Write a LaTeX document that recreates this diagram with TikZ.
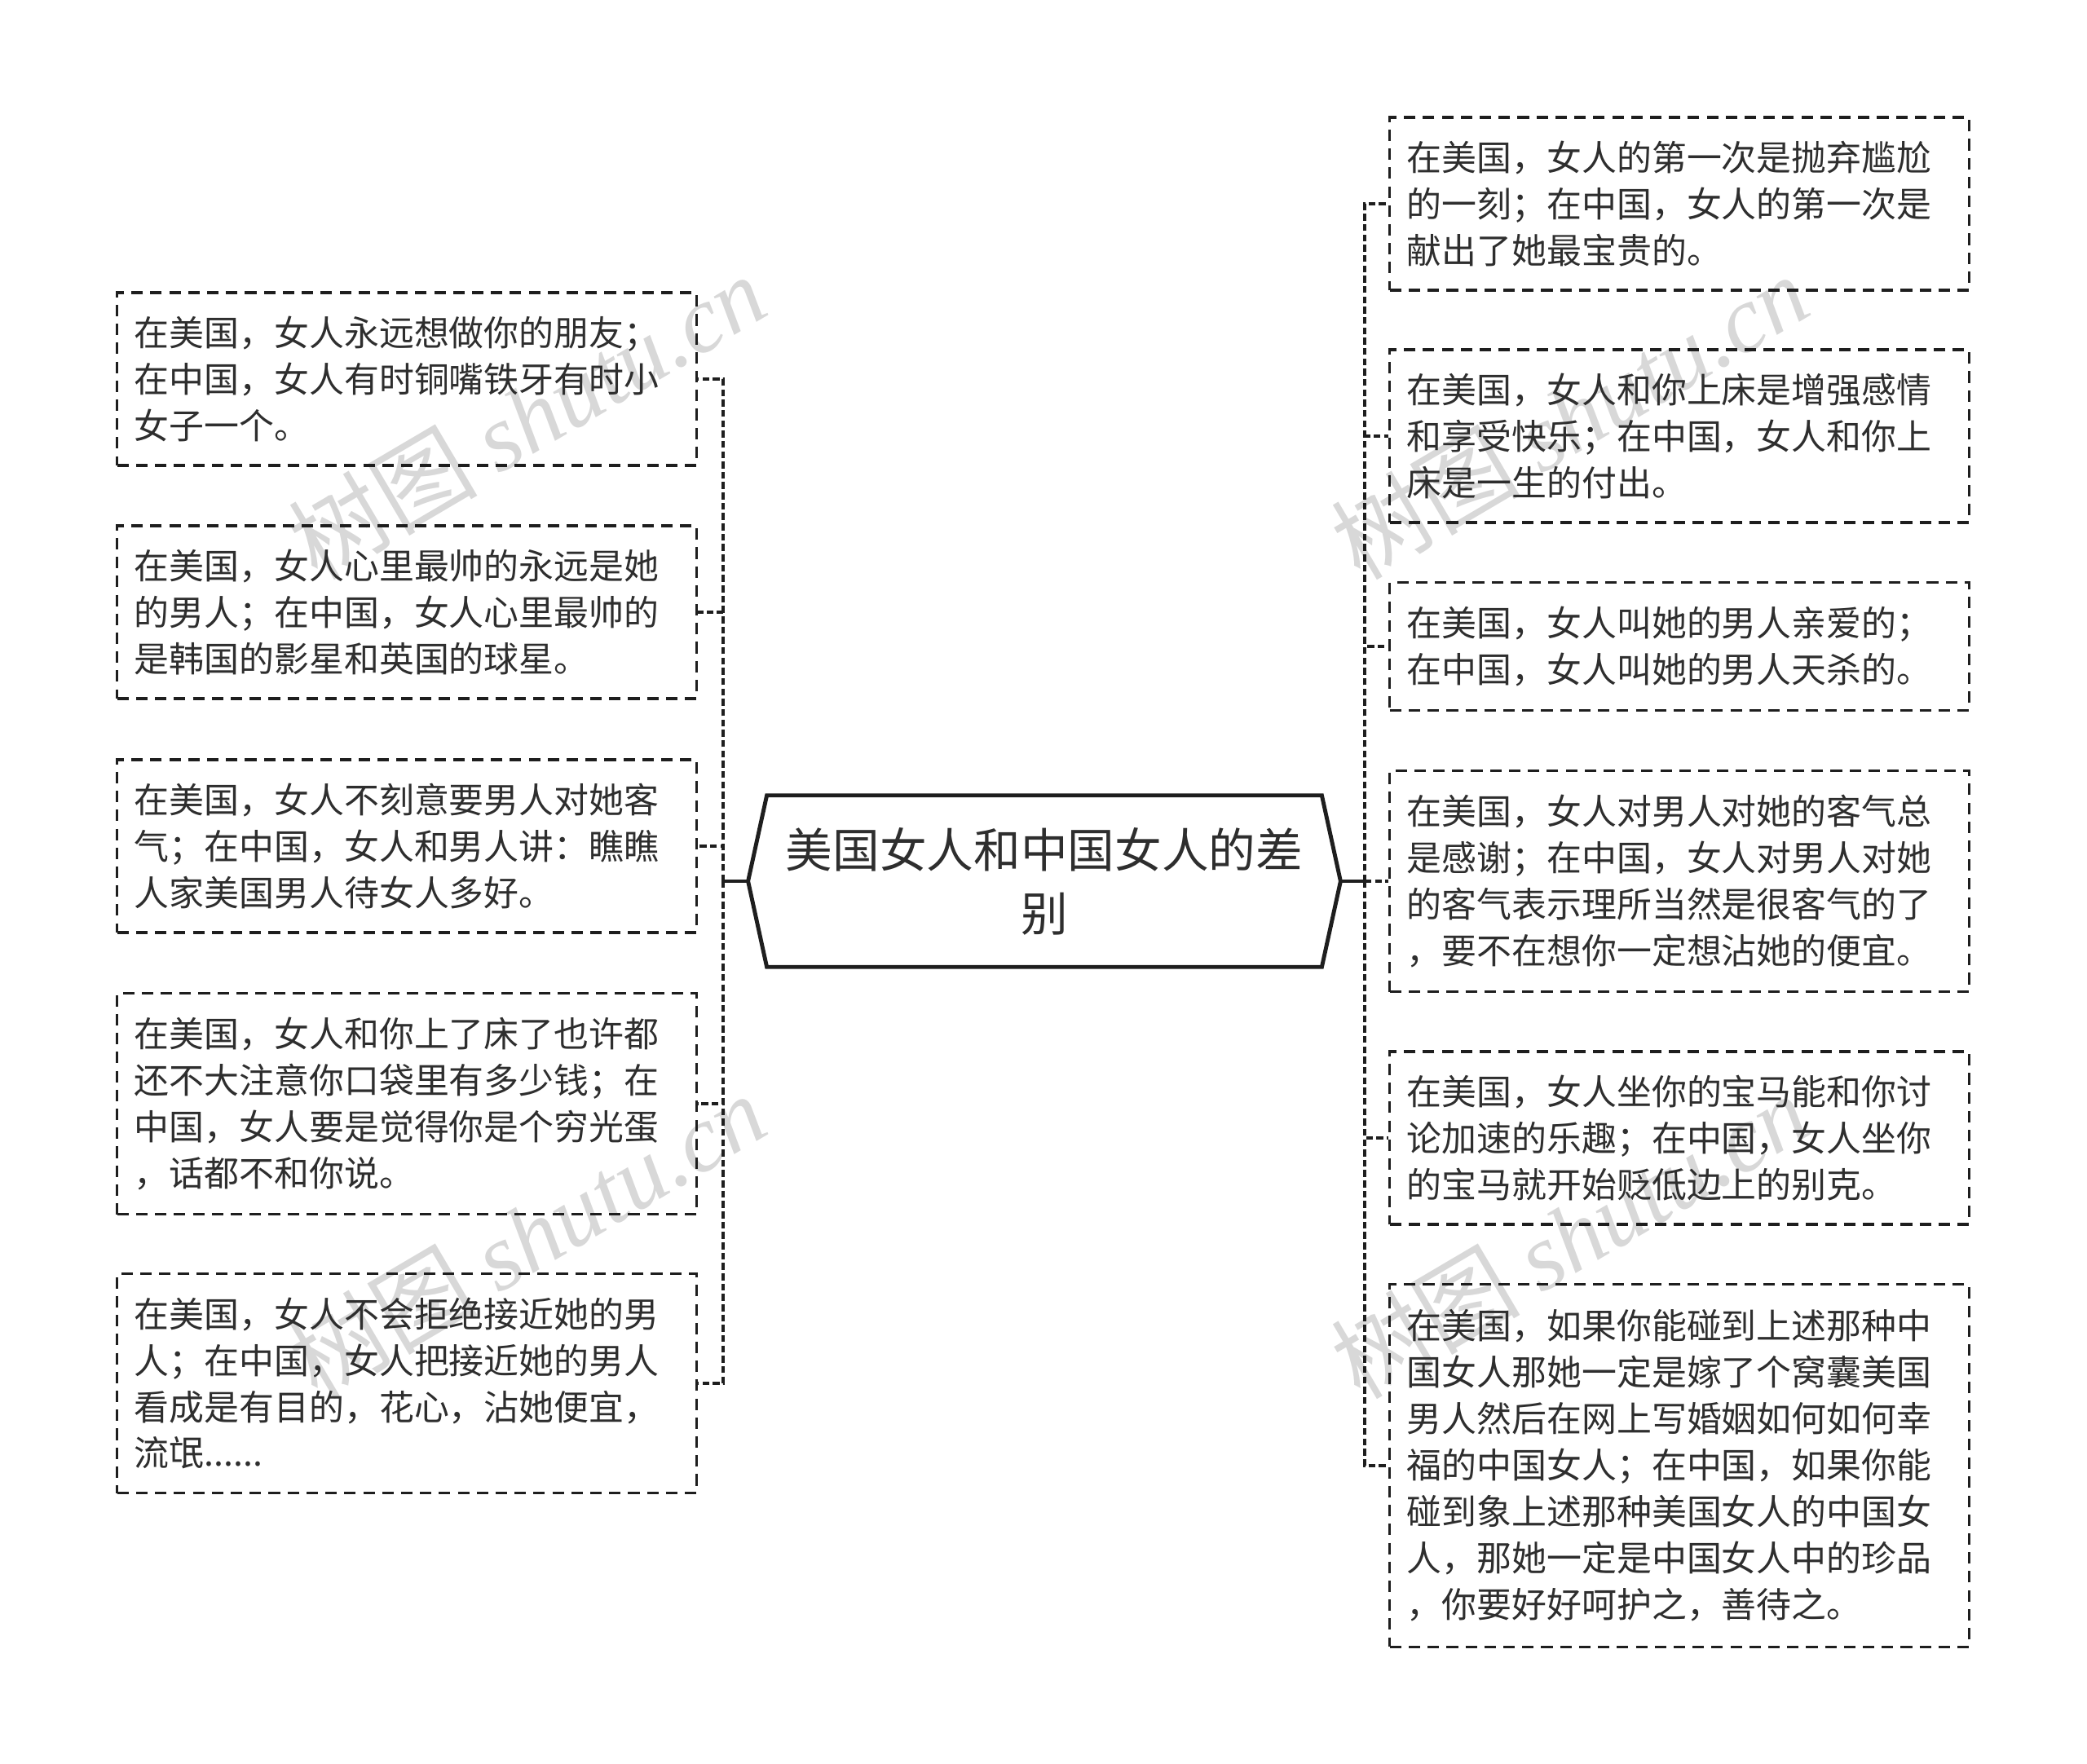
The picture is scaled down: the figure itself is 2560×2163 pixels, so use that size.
\documentclass[tikz,border=0pt]{standalone}
\usepackage{fontspec}
\setmainfont{Noto Sans CJK SC}
\newfontfamily\wmserif{Liberation Serif}
\usepackage{tikz}
\usetikzlibrary{calc}
\definecolor{inkgray}{HTML}{2E2E2E}
\definecolor{linegray}{HTML}{1E1E1E}
\definecolor{markgray}{HTML}{D8D8D8}
\tikzset{
  leaf/.style={draw=linegray, line width=0.9pt, dash pattern=on 4pt off 2.6pt,
    text=inkgray, align=left, text width=6.68cm, inner xsep=0.21cm, inner ysep=0pt,
    font=\fontsize{12.2pt}{16.2pt}\selectfont},
  link/.style={draw=linegray, line width=1.2pt, dash pattern=on 2.4pt off 1.2pt},
  stub/.style={draw=linegray, line width=1.1pt},
  watermark/.style={text=markgray, rotate=30.5, font=\fontsize{33pt}{33pt}\selectfont}
}

\begin{document}
\begin{tikzpicture}[x=0.01cm, y=-0.01cm]
    \useasboundingbox (0,0) rectangle (2560,2163);

    % Watermarks
    \node[watermark] (wm1) at (646,511) {树图 {\wmserif\itshape shutu.cn}};
    \node[watermark] (wm2) at (1925,511) {树图 {\wmserif\itshape shutu.cn}};
    \node[watermark] (wm3) at (646,1516) {树图 {\wmserif\itshape shutu.cn}};
    \node[watermark] (wm4) at (1925,1516) {树图 {\wmserif\itshape shutu.cn}};

    % Central topic
    \node[font=\fontsize{16.4pt}{22.2pt}\selectfont, text=inkgray, align=center,
          minimum width=6.79cm, minimum height=2.09cm] (title) at (1281,1081)
          {美国女人和中国女人的差\\别};
    \coordinate (tw) at ($(title.west)+(-23,0)$);
    \coordinate (te) at ($(title.east)+(23,0)$);
    \draw[line width=1.4pt, linegray] (tw) -- (title.north west) -- (title.north east)
        -- (te) -- (title.south east) -- (title.south west) -- cycle;

    % Left branch
    \node[leaf, minimum height=2.12cm] (L1) at (499,465)
        {在美国，女人永远想做你的朋友；\\在中国，女人有时铜嘴铁牙有时小\\女子一个。};
    \node[leaf, minimum height=2.12cm] (L2) at (499,751)
        {在美国，女人心里最帅的永远是她\\的男人；在中国，女人心里最帅的\\是韩国的影星和英国的球星。};
    \node[leaf, minimum height=2.12cm] (L3) at (499,1038)
        {在美国，女人不刻意要男人对她客\\气；在中国，女人和男人讲：瞧瞧\\人家美国男人待女人多好。};
    \node[leaf, minimum height=2.71cm] (L4) at (499,1354)
        {在美国，女人和你上了床了也许都\\还不大注意你口袋里有多少钱；在\\中国，女人要是觉得你是个穷光蛋\\，话都不和你说。};
    \node[leaf, minimum height=2.69cm] (L5) at (499,1697)
        {在美国，女人不会拒绝接近她的男\\人；在中国，女人把接近她的男人\\看成是有目的，花心，沾她便宜，\\流氓......};

    % Right branch
    \node[leaf, minimum height=2.12cm] (R1) at (2060,250)
        {在美国，女人的第一次是抛弃尴尬\\的一刻；在中国，女人的第一次是\\献出了她最宝贵的。};
    \node[leaf, minimum height=2.12cm] (R2) at (2060,535)
        {在美国，女人和你上床是增强感情\\和享受快乐；在中国，女人和你上\\床是一生的付出。};
    \node[leaf, minimum height=1.57cm] (R3) at (2060,793)
        {在美国，女人叫她的男人亲爱的；\\在中国，女人叫她的男人天杀的。};
    \node[leaf, minimum height=2.71cm] (R4) at (2060,1081)
        {在美国，女人对男人对她的客气总\\是感谢；在中国，女人对男人对她\\的客气表示理所当然是很客气的了\\，要不在想你一定想沾她的便宜。};
    \node[leaf, minimum height=2.12cm] (R5) at (2060,1396)
        {在美国，女人坐你的宝马能和你讨\\论加速的乐趣；在中国，女人坐你\\的宝马就开始贬低边上的别克。};
    \node[leaf, minimum height=4.44cm] (R6) at (2060,1798)
        {在美国，如果你能碰到上述那种中\\国女人那她一定是嫁了个窝囊美国\\男人然后在网上写婚姻如何如何幸\\福的中国女人；在中国，如果你能\\碰到象上述那种美国女人的中国女\\人，那她一定是中国女人中的珍品\\，你要好好呵护之，善待之。};

    % Connectors
    \coordinate (ls) at (887,1081);
    \coordinate (rs) at (1674,1081);
    \draw[stub] (tw) -- (ls);
    \draw[stub] (te) -- (rs);
    \foreach \n in {L1,L2,L3,L4,L5}
        \draw[link] (ls) |- (\n.east);
    \foreach \n in {R1,R2,R3,R4,R5,R6}
        \draw[link] (rs) |- (\n.west);
\end{tikzpicture}
\end{document}
